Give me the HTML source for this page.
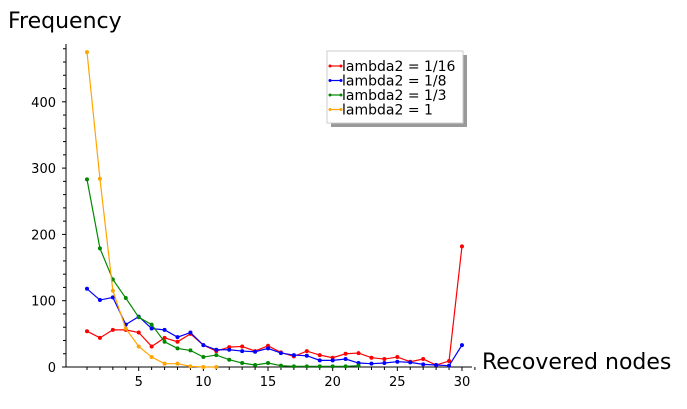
<!DOCTYPE html>
<html><head><meta charset="utf-8"><style>
body{margin:0;background:#fff;}
svg{font-family:"DejaVu Sans","Liberation Sans",sans-serif;}
</style></head><body>
<svg id="c" width="687" height="404">
<text x="8" y="28" font-size="22">Frequency</text>
<text x="482" y="369" font-size="22">Recovered nodes</text>
<g id="axes"></g><g id="series"></g>
<g>
<rect x="331" y="55" width="136" height="72" fill="#999"/>
<rect x="327" y="51" width="136" height="72" fill="#fff" stroke="#ccc"/>
<g id="leg"></g></g>
</svg>
<script>
const xValues=[1,2,3,4,5,6,7,8,9,10,11,12,13,14,15,16,17,18,19,20,21,22,23,24,25,26,27,28,29,30];
const red=[54,44,56,56,52,31,44,38,50,33,24,30,31,24,32,22,16,24,18,14,20,21,14,12,15,8,12,3,9,182];
const blue=[118,101,105,64,76,58,56,45,52,33,26,26,24,23,28,21,18,17,10,10,12,6,5,6,8,7,4,3,2,33];
const green=[283,179,132,104,75,64,38,28,25,15,18,11,6,3,6,2,1,1,1,1,1,2];
const orange=[475,284,115,58,31,15,5,5,1,0,0];
const seriesNames=["lambda2 = 1/16","lambda2 = 1/8","lambda2 = 1/3","lambda2 = 1"];
const seriesColors=["#f00","#00f","#080","#ffa500"];
const yTicks=[0,100,200,300,400];
const xTicks=[5,10,15,20,25,30];
const NS="http://www.w3.org/2000/svg";
const sx=v=>87+(v-1)*12.93;
const sy=v=>367-v*0.663;
function mk(t,a,p){const e=document.createElementNS(NS,t);for(const k in a)e.setAttribute(k,a[k]);p.appendChild(e);return e;}
const ax=document.getElementById('axes');
let l=mk('line',{x1:66,y1:44,x2:66,y2:367,stroke:'#000'},ax);


l=mk('line',{x1:66,y1:367,x2:472,y2:367,stroke:'#000'},ax);


for(let v=0;v<=480;v+=20){mk('line',{x1:v%100?63:62,y1:sy(v),x2:66,y2:sy(v),stroke:'#000'},ax);}
yTicks.forEach(v=>{const t=mk('text',{x:56,y:sy(v)+5,'font-size':13,'text-anchor':'end'},ax);t.textContent=v;

});
for(let v=1;v<=31;v++){mk('line',{x1:sx(v),y1:367,x2:sx(v),y2:v%5?370:371,stroke:'#000'},ax);}
xTicks.forEach(v=>{const t=mk('text',{x:sx(v),y:386,'font-size':13,'text-anchor':'middle'},ax);t.textContent=v;

});
const sg=document.getElementById('series');
[red,blue,green,orange].forEach((d,i)=>{
 const g=mk('g',{},sg);
 
 
 mk('polyline',{points:d.map((v,j)=>sx(xValues[j])+','+sy(v)).join(' '),fill:'none',stroke:seriesColors[i],'stroke-width':1.2},g);
 d.forEach((v,j)=>mk('circle',{cx:sx(xValues[j]),cy:sy(v),r:2,fill:seriesColors[i]},g));
});
const lg=document.getElementById('leg');
seriesNames.forEach((n,i)=>{const y=66+i*14.5;
 const g=mk('g',{},lg);
 
 
 mk('line',{x1:330,y1:y,x2:341,y2:y,stroke:seriesColors[i],'stroke-width':1.2},g);
 mk('circle',{cx:330,cy:y,r:1.5,fill:seriesColors[i]},g);mk('circle',{cx:341,cy:y,r:1.5,fill:seriesColors[i]},g);
 const t=mk('text',{x:342,y:y+5,'font-size':14},g);t.textContent=n;});
</script>
</body></html>
